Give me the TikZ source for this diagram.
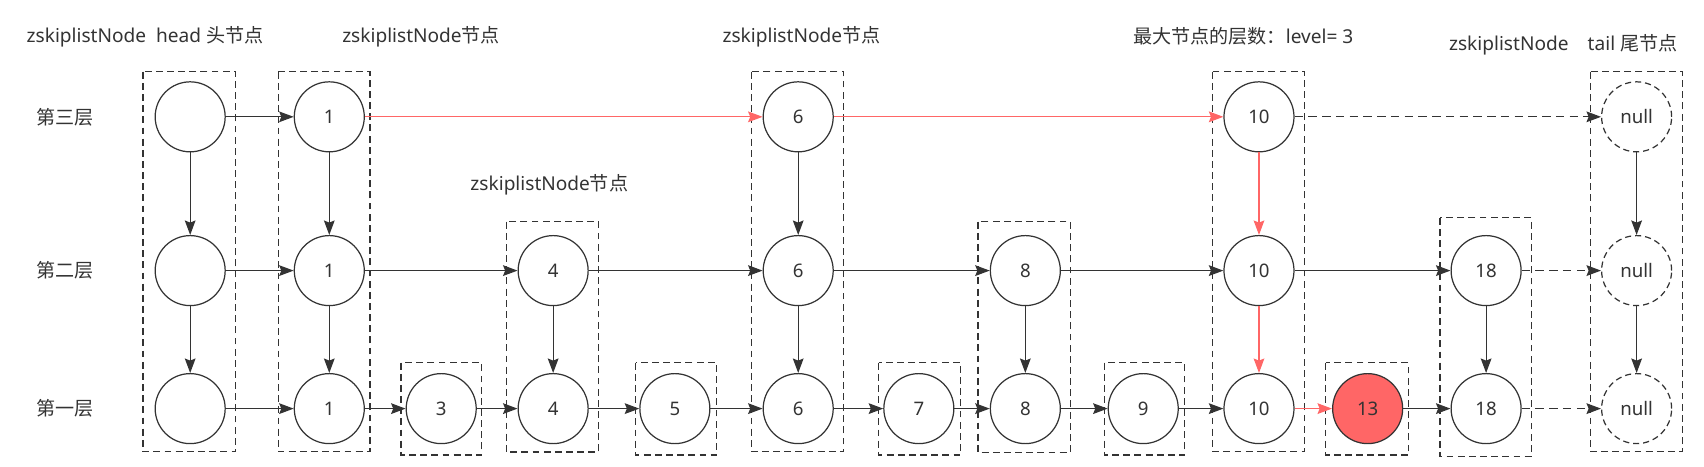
\documentclass[tikz,border=0pt]{standalone}
\usepackage{fontspec}
\setmainfont{Noto Sans}
\newfontfamily\cjk{Noto Sans CJK SC}
\usetikzlibrary{arrows.meta}
\definecolor{linegray}{HTML}{333333}
\definecolor{hotred}{HTML}{FF6666}

\begin{document}
\begin{tikzpicture}[x=0.025cm, y=-0.025cm,
    every node/.style={text=linegray, font=\fontsize{12.5pt}{15pt}\selectfont},
    skipnode/.style={draw=linegray, circle, line width=0.8pt, minimum size=1.61cm, inner sep=0pt, fill=white, font=\fontsize{12.2pt}{14pt}\selectfont},
    nullnode/.style={skipnode, dash pattern=on 4pt off 2.6pt},
    hitnode/.style={skipnode, fill=hotred},
    colbox/.style={draw=linegray, line width=0.8pt, dash pattern=on 4.5pt off 2.8pt},
    link/.style={draw=linegray, line width=0.8pt, -{Stealth[length=9.5pt,width=7pt,inset=1.4pt]}},
    redlink/.style={link, draw=hotred},
    dashlink/.style={link, dash pattern=on 5.5pt off 3.5pt}]
            \useasboundingbox (0,0) rectangle (1568,429);

            % Boxes
            \draw[colbox] (131.5,66) rectangle (217,415.6);
            \draw[colbox] (256,66) rectangle (340.5,415.6);
            \draw[colbox] (369,333.7) rectangle (443,418.7);
            \draw[colbox] (466,204) rectangle (551,416);
            \draw[colbox] (585,333.7) rectangle (659.5,418.7);
            \draw[colbox] (691.5,66) rectangle (776.5,415.7);
            \draw[colbox] (808.5,333.7) rectangle (884,418.7);
            \draw[colbox] (900,204) rectangle (985,416.3);
            \draw[colbox] (1016,333.7) rectangle (1090,418.7);
            \draw[colbox] (1116,66) rectangle (1200.7,415.5);
            \draw[colbox] (1220,333.7) rectangle (1296,418.7);
            \draw[colbox] (1325,200.3) rectangle (1409,420);
            \draw[colbox] (1463.5,66) rectangle (1548.5,415.5);

            % Level 3
            \node[skipnode] (ch) at (175,107.5) {};
            \node[skipnode] (c1) at (303,107.5) {1};
            \node[skipnode] (c6) at (734.5,107.5) {6};
            \node[skipnode] (c10) at (1158.5,107.5) {10};
            \node[nullnode] (cnull) at (1506,107.5) {null};

            % Level 2
            \node[skipnode] (bh) at (175,249) {};
            \node[skipnode] (b1) at (303,249) {1};
            \node[skipnode] (b4) at (509,249) {4};
            \node[skipnode] (b6) at (734.5,249) {6};
            \node[skipnode] (b8) at (943.5,249) {8};
            \node[skipnode] (b10) at (1158.5,249) {10};
            \node[skipnode] (b18) at (1367.5,249) {18};
            \node[nullnode] (bnull) at (1506,249) {null};

            % Level 1
            \node[skipnode] (ah) at (175,376) {};
            \node[skipnode] (a1) at (303,376) {1};
            \node[skipnode] (a3) at (406,376) {3};
            \node[skipnode] (a4) at (509,376) {4};
            \node[skipnode] (a5) at (621,376) {5};
            \node[skipnode] (a6) at (734.5,376) {6};
            \node[skipnode] (a7) at (845.5,376) {7};
            \node[skipnode] (a8) at (943.5,376) {8};
            \node[skipnode] (a9) at (1052,376) {9};
            \node[skipnode] (a10) at (1158.5,376) {10};
            \node[hitnode] (a13) at (1258.5,376) {13};
            \node[skipnode] (a18) at (1367.5,376) {18};
            \node[nullnode] (anull) at (1506,376) {null};

            % Labels
            \node (lhead) at (133.5,34) {zskiplistNode~~head {\cjk 头节点}};
            \node (lnode1) at (387.5,34) {zskiplistNode{\cjk 节点}};
            \node (lnode6) at (737.5,34) {zskiplistNode{\cjk 节点}};
            \node (llevel) at (1144,33) {{\cjk 最大节点的层数：}level=~3};
            \node (ltail) at (1438.5,41) {zskiplistNode\quad tail {\cjk 尾节点}};
            \node (lnode4) at (505.5,170) {zskiplistNode{\cjk 节点}};
            \node (lay3) at (59.5,108) {\cjk 第三层};
            \node (lay2) at (59.5,249) {\cjk 第二层};
            \node (lay1) at (59.5,376) {\cjk 第一层};

            % Edges
            \draw[link] (ch) -- (c1);
            \draw[redlink] (c1) -- (c6);
            \draw[redlink] (c6) -- (c10);
            \draw[dashlink] (c10) -- (cnull);

            \draw[link] (bh) -- (b1);
            \draw[link] (b1) -- (b4);
            \draw[link] (b4) -- (b6);
            \draw[link] (b6) -- (b8);
            \draw[link] (b8) -- (b10);
            \draw[link] (b10) -- (b18);
            \draw[dashlink] (b18) -- (bnull);

            \draw[link] (ah) -- (a1);
            \draw[link] (a1) -- (a3);
            \draw[link] (a3) -- (a4);
            \draw[link] (a4) -- (a5);
            \draw[link] (a5) -- (a6);
            \draw[link] (a6) -- (a7);
            \draw[link] (a7) -- (a8);
            \draw[link] (a8) -- (a9);
            \draw[link] (a9) -- (a10);
            \draw[redlink] (a10) -- (a13);
            \draw[link] (a13) -- (a18);
            \draw[dashlink] (a18) -- (anull);

            \draw[link] (ch) -- (bh);
            \draw[link] (bh) -- (ah);
            \draw[link] (c1) -- (b1);
            \draw[link] (b1) -- (a1);
            \draw[link] (b4) -- (a4);
            \draw[link] (c6) -- (b6);
            \draw[link] (b6) -- (a6);
            \draw[link] (b8) -- (a8);
            \draw[redlink] (c10) -- (b10);
            \draw[redlink] (b10) -- (a10);
            \draw[link] (b18) -- (a18);
            \draw[link] (cnull) -- (bnull);
            \draw[link] (bnull) -- (anull);
        \end{tikzpicture}
\end{document}
